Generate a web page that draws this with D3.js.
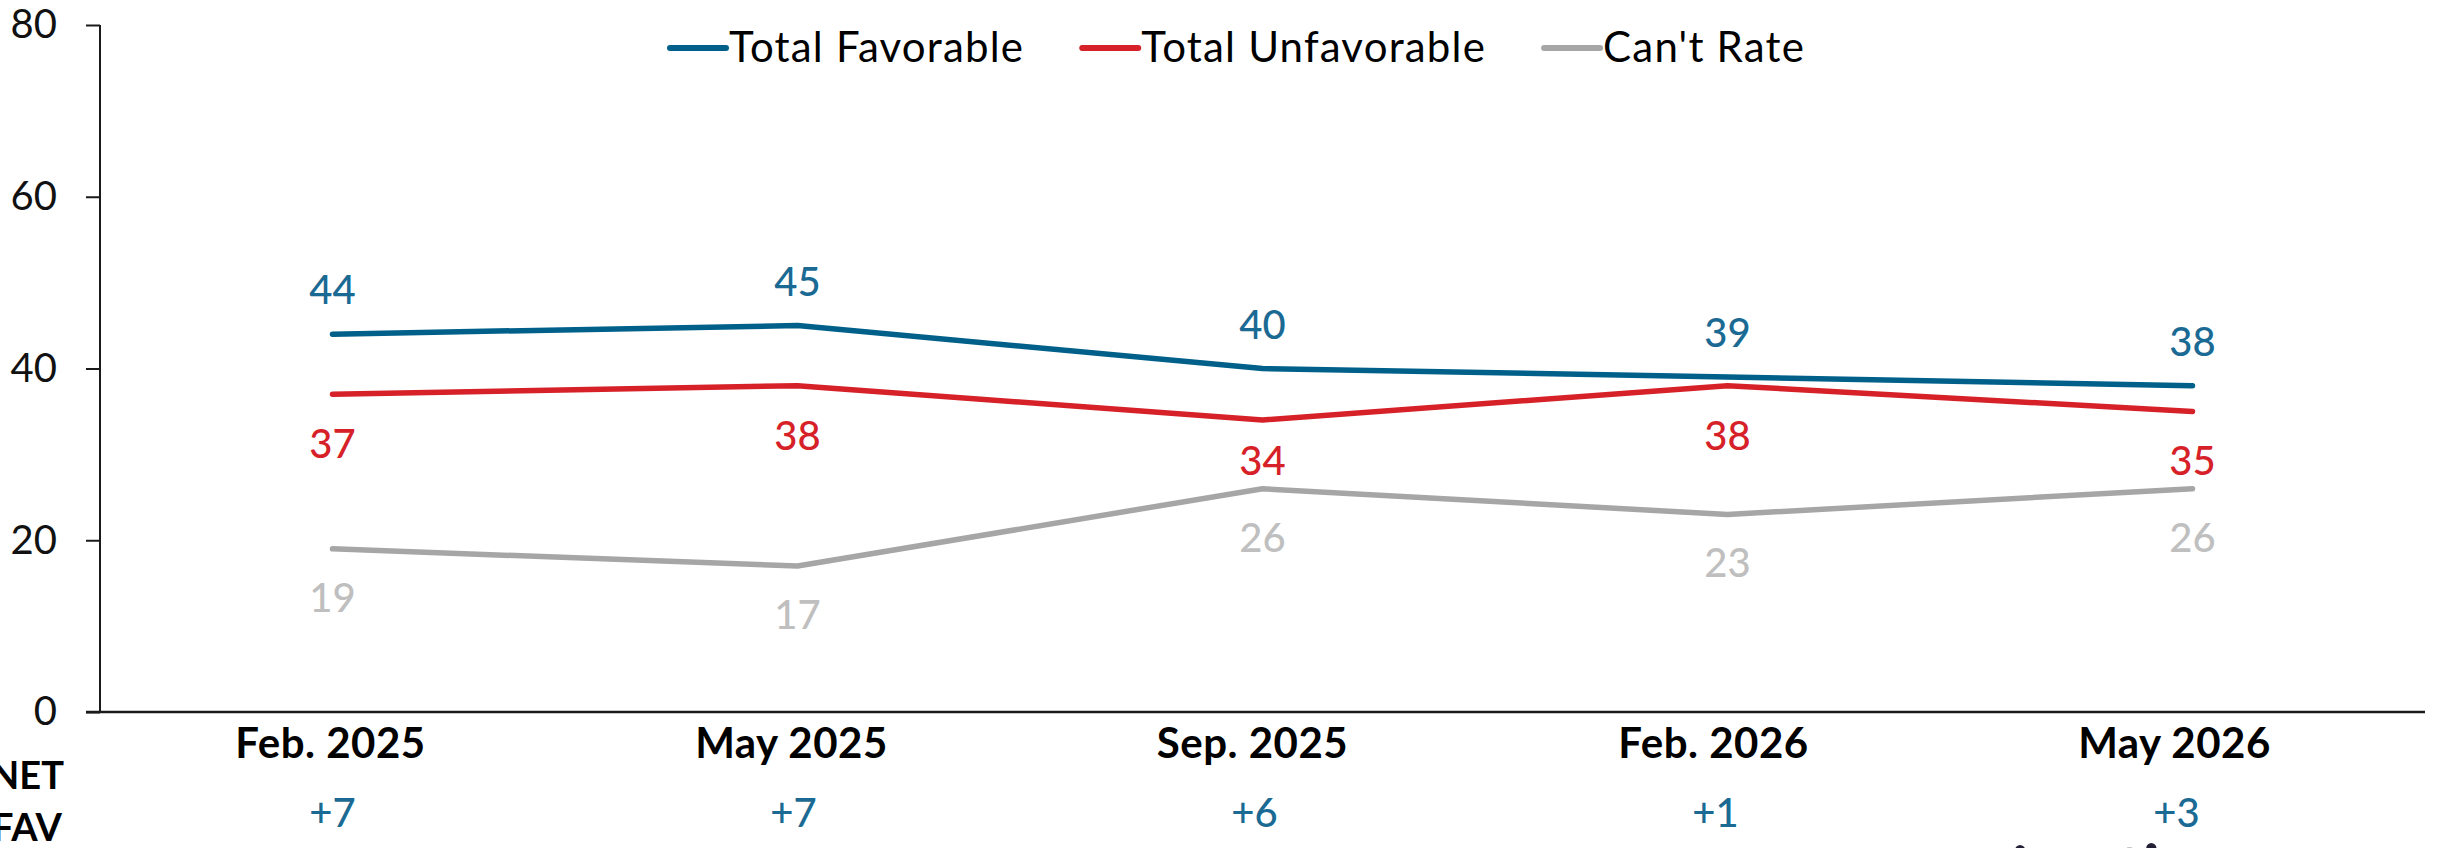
<!DOCTYPE html>
<html><head><meta charset="utf-8">
<script src="https://cdn.jsdelivr.net/npm/d3@7"></script>
<style>
html,body{margin:0;padding:0;background:#fff;overflow:hidden;}
svg{display:block;font-family:Lato,"Open Sans",sans-serif;}
</style></head>
<body>
<svg id="chart" width="2438" height="848"></svg>
<script>
const categories = ["Feb. 2025","May 2025","Sep. 2025","Feb. 2026","May 2026"];
const favorable   = [44,45,40,39,38];
const unfavorable = [37,38,34,38,35];
const cantRate    = [19,17,26,23,26];
const netFav      = ["+7","+7","+6","+1","+3"];
const yTicks      = [0,20,40,60,80];
const seriesNames = ["Total Favorable","Total Unfavorable","Can't Rate"];

(function(){
const svg=d3.select("#chart");
const mLeft=100,mRight=2425,mTop=25,mBottom=712;
const x=d3.scaleBand().domain(categories).range([mLeft,mRight]).padding(0);
const xLab=d3.scaleBand().domain(categories).range([mLeft,2405]).padding(0);
const y=d3.scaleLinear().domain([0,80]).range([mBottom,mTop]);
const cx=i=>x(categories[i])+x.bandwidth()/2;

const series=[
  {name:seriesNames[0],values:favorable,color:"#00608a",label:"#1a6a94",dy:()=>-45},
  {name:seriesNames[1],values:unfavorable,color:"#d62128",label:"#d62128",
    // place below the line, but keep clear of the grey line beneath
    dy:(d,i)=>Math.min(49,(y(cantRate[i])-y(d))-29)},
  {name:seriesNames[2],values:cantRate,color:"#a6a6a6",label:"#bfbfbf",dy:()=>48}
];

// y axis
const yAxis=d3.axisLeft(y).tickValues(yTicks).tickSize(14).tickPadding(29).tickFormat(d3.format("d"));
const gy=svg.append("g").attr("transform",`translate(${mLeft},0)`).call(yAxis);
gy.select(".domain").attr("stroke","#1a1a1a").attr("stroke-width",2).attr("d",`M0,${mTop}V${mBottom}`);
gy.selectAll(".tick line").attr("stroke","#1a1a1a").attr("stroke-width",2);
gy.selectAll(".tick text").attr("fill","#111").style("font-size","40px").style("font-family","Lato");

// x axis baseline
const xAxis=d3.axisBottom(x).tickSize(0).tickFormat("");
const gx=svg.append("g").attr("transform",`translate(0,${mBottom})`).call(xAxis);
gx.select(".domain").attr("stroke","#1a1a1a").attr("stroke-width",2.5).attr("d",`M${mLeft-14},0H${mRight}`);

// category labels
svg.append("g").selectAll("text").data(categories).join("text")
  .attr("x",d=>xLab(d)+xLab.bandwidth()/2).attr("y",742)
  .attr("text-anchor","middle").attr("dominant-baseline","central")
  .attr("fill","#000").style("font-size","42px").style("font-weight","700").style("letter-spacing","0.5px")
  .text(d=>d);

// lines
const line=d3.line().x((d,i)=>cx(i)).y(d=>y(d));
series.forEach(s=>{
  svg.append("path").datum(s.values).attr("d",line).attr("fill","none")
    .attr("stroke",s.color).attr("stroke-width",5.5).attr("stroke-linecap","round").attr("stroke-linejoin","round");
});
// labels
series.forEach(s=>{
  svg.append("g").selectAll("text").data(s.values).join("text")
    .attr("x",(d,i)=>cx(i))
    .attr("y",(d,i)=>y(d)+s.dy(d,i))
    .attr("text-anchor","middle").attr("dominant-baseline","central")
    .attr("fill",s.label).style("font-size","40px").style("font-weight","500")
    .text(d=>d);
});

// NET FAV
svg.append("text").attr("x",27).attr("y",774).attr("text-anchor","middle").attr("dominant-baseline","central")
  .style("font-size","38px").style("font-weight","700").attr("fill","#000").text("NET");
svg.append("text").attr("x",27).attr("y",826).attr("text-anchor","middle").attr("dominant-baseline","central")
  .style("font-size","38px").style("font-weight","700").attr("fill","#000").text("FAV");
svg.append("g").selectAll("text").data(netFav).join("text")
  .attr("x",(d,i)=>xLab(categories[i])+xLab.bandwidth()/2+2).attr("y",812)
  .attr("text-anchor","middle").attr("dominant-baseline","central")
  .attr("fill","#1a6a94").style("font-size","40px").style("font-weight","500")
  .text(d=>d);

// legend
let lx=670;
series.forEach(s=>{
  const g=svg.append("g");
  g.append("line").attr("x1",lx).attr("x2",lx+56).attr("y1",48).attr("y2",48)
    .attr("stroke",s.color).attr("stroke-width",6).attr("stroke-linecap","round");
  const t=g.append("text").attr("x",lx+59).attr("y",46).attr("dominant-baseline","central")
    .attr("fill","#000").style("font-size","42px").style("letter-spacing","1.2px").text(s.name);
  lx+=59+t.node().getComputedTextLength()+58;
});

// partial footer glyphs (cut off at bottom)
svg.append("text").attr("x",2012).attr("y",892).attr("fill","#231f35")
  .style("font-size","64px").style("font-weight","700").text("i");
svg.append("text").attr("x",2118).attr("y",890).attr("fill","#231f35")
  .style("font-size","64px").style("font-weight","700").text("ti");
})();
</script>
</body></html>
